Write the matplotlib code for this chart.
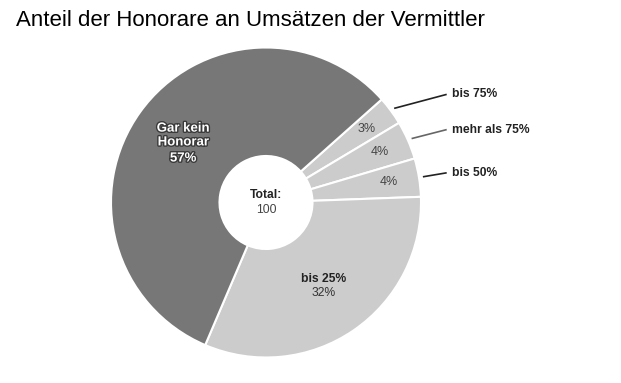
import matplotlib
matplotlib.use("Agg")
import matplotlib.pyplot as plt
import matplotlib.patheffects as pe
import numpy as np

plt.rcParams['font.family'] = ['Liberation Sans', 'DejaVu Sans']

title = "Anteil der Honorare an Umsätzen der Vermittler"
categories = ["bis 75%", "mehr als 75%", "bis 50%", "bis 25%", "Gar kein\nHonorar"]
values = [3, 4, 4, 32, 57]
pct_labels = ["3%", "4%", "4%", "32%", "57%"]
colors = ["#cccccc", "#cccccc", "#cccccc", "#cccccc", "#777777"]
total_label = "Total:"
total_value = "100"

W, H = 621, 383
fig = plt.figure(figsize=(W / 100, H / 100), dpi=100)
ax = fig.add_axes([0, 0, 1, 1])

cx, cy, R = 266, H - 202.5, 155
hole = 0.30

wedges, _ = ax.pie(values, colors=colors, startangle=41.7, counterclock=False,
                   center=(cx, cy), radius=R, frame=True,
                   wedgeprops=dict(width=R * (1 - hole), edgecolor="white", linewidth=1.5))
ax.set_xlim(0, W)
ax.set_ylim(0, H)
ax.set_aspect("equal")
ax.axis("off")


def mid_angle(w):
    return np.deg2rad((w.theta1 + w.theta2) / 2)


# inside labels for small slices
for i in range(3):
    a = mid_angle(wedges[i])
    r = R * 0.805
    ax.text(cx + r * np.cos(a), cy + r * np.sin(a), pct_labels[i], ha="center", va="center",
            fontsize=9, color="#444444")

# outside labels with leader lines
line_colors = ["#222222", "#666666", "#222222"]
for i in range(3):
    a = mid_angle(wedges[i])
    x0, y0 = cx + (R + 4) * np.cos(a), cy + (R + 4) * np.sin(a)
    ty = y0 + [14, 9, 4][i]
    ax.plot([x0, 446.7], [y0, ty], color=line_colors[i], lw=1.2, solid_capstyle="butt")
    ax.text(452, ty, categories[i], ha="left", va="center", fontsize=8.7,
            fontweight="bold", color="#222222")

# bis 25%
ax.text(323.3, H - 279, categories[3], ha="center", va="center", fontsize=8.7,
        fontweight="bold", color="#222222")
ax.text(323.3, H - 293.5, pct_labels[3], ha="center", va="center", fontsize=8.7,
        color="#333333")

# Gar kein Honorar
stroke = [pe.withStroke(linewidth=2, foreground="#3a3a3a")]
ax.text(183.3, H - 135.5, categories[4], ha="center", va="center", fontsize=9.5,
        fontweight="bold", color="white", linespacing=1.2, path_effects=stroke)
ax.text(183.3, H - 158.5, pct_labels[4], ha="center", va="center", fontsize=9.5,
        fontweight="bold", color="white", path_effects=stroke)

# center
ax.text(cx, H - 195.5, total_label, ha="center", va="center", fontsize=8.7,
        fontweight="bold", color="#222222")
ax.text(cx, H - 210, total_value, ha="center", va="center", fontsize=8.7,
        color="#444444")

fig.text(16 / W, 1 - 20 / H, title, ha="left", va="center", fontsize=16, color="#000000")

fig.savefig("out.png", dpi=100, facecolor="white")
